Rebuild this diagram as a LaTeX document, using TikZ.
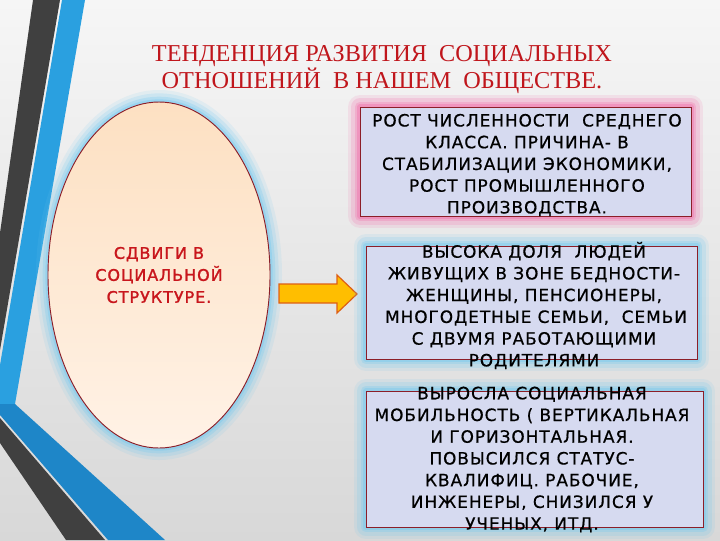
\documentclass[tikz,border=0pt]{standalone}
\usepackage{fontspec}
\setmainfont{Liberation Serif}
\newfontfamily\boxfont[LetterSpace=5.5,FakeBold=0.6]{DejaVu Sans}
\newfontfamily\ellfont[LetterSpace=6,FakeBold=1.4]{DejaVu Sans}
\usetikzlibrary{shapes.geometric}
\definecolor{bgtop}{RGB}{246,246,246}
\definecolor{bgbot}{RGB}{216,216,216}
\definecolor{darkstripe}{RGB}{64,64,64}
\definecolor{bluestripe}{RGB}{42,160,224}
\definecolor{bluestripeb}{RGB}{30,134,200}
\definecolor{titlered}{RGB}{192,22,28}
\definecolor{ellred}{RGB}{200,22,28}
\definecolor{peachtop}{RGB}{253,224,194}
\definecolor{peachbot}{RGB}{255,242,230}
\definecolor{glowblue}{RGB}{110,200,240}
\definecolor{glowpink}{RGB}{240,100,165}
\definecolor{boxfill}{RGB}{214,218,240}
\definecolor{boxline}{RGB}{140,30,40}
\definecolor{arrowfill}{RGB}{255,190,0}
\definecolor{arrowline}{RGB}{222,95,20}
\tikzset{
  glowof/.style={
    preaction={draw=#1, line width=18pt, opacity=0.12, line join=round},
    preaction={draw=#1, line width=13pt, opacity=0.18, line join=round},
    preaction={draw=#1, line width=8pt, opacity=0.25, line join=round},
    preaction={draw=#1, line width=4pt, opacity=0.35, line join=round}},
  infobox/.style={rectangle, draw=boxline, line width=0.7pt, fill=boxfill, inner sep=0pt},
  boxtext/.style={align=center, text=black, inner sep=0pt,
    font={\boxfont\fontsize{12.7pt}{16.3pt}\selectfont}},
}
\begin{document}
\begin{tikzpicture}[x=0.75pt,y=-0.75pt]
\useasboundingbox (0,0) rectangle (720,540);
\shade[top color=bgtop, bottom color=bgbot] (0,0) rectangle (720,540);
% decorative stripes
\fill[darkstripe] (33,0) -- (60,0) -- (0,350) -- (0,233) -- cycle;
\fill[bluestripe] (62,0) -- (85,0) -- (15,404) -- (0,404) -- (0,365) -- cycle;
\fill[bluestripeb] (0,404) -- (15,404) -- (165,540) -- (108,540) -- (0,415) -- cycle;
\fill[darkstripe] (0,418) -- (105,540) -- (66,540) -- (0,443) -- cycle;
% title
\node[font=\fontsize{18.2pt}{18.75pt}\selectfont, text=titlered, align=center, inner sep=0pt]
  (title) at (382,70) {ТЕНДЕНЦИЯ РАЗВИТИЯ~ СОЦИАЛЬНЫХ\\ОТНОШЕНИЙ~ В НАШЕМ~ ОБЩЕСТВЕ.};
% ellipse
\node[ellipse, glowof=glowblue, draw=boxline, line width=0.7pt, top color=peachtop, bottom color=peachbot,
  minimum width=166.5pt, minimum height=259.5pt, inner sep=0pt, align=center, text=ellred,
  font={\ellfont\fontsize{12pt}{16.5pt}\selectfont}]
  (ell) at (159,275) {СДВИГИ В\\СОЦИАЛЬНОЙ\\СТРУКТУРЕ.};
% arrow
\draw[fill=arrowfill, draw=arrowline, line width=0.9pt, line join=miter]
  (279,284) -- (337,284) -- (337,275) -- (357,294) -- (337,313) -- (337,303) -- (279,303) -- cycle;
% boxes
\node[infobox, glowof=glowpink, minimum width=248.25pt, minimum height=81.75pt] (b1) at (525.5,161.5) {};
\node[infobox, glowof=glowblue, minimum width=248.25pt, minimum height=84.75pt] (b2) at (531.5,302.5) {};
\node[infobox, glowof=glowblue, minimum width=252.75pt, minimum height=102pt] (b3) at (534.5,459) {};
\node[boxtext] (t1) at (527,165) {РОСТ ЧИСЛЕННОСТИ~ СРЕДНЕГО\\КЛАССА. ПРИЧИНА- В\\СТАБИЛИЗАЦИИ ЭКОНОМИКИ,\\РОСТ ПРОМЫШЛЕННОГО\\ПРОИЗВОДСТВА.};
\node[boxtext] (t2) at (534,305.5) {ВЫСОКА ДОЛЯ~ ЛЮДЕЙ\\ЖИВУЩИХ В ЗОНЕ БЕДНОСТИ-\\ЖЕНЩИНЫ, ПЕНСИОНЕРЫ,\\\hspace{3pt}МНОГОДЕТНЫЕ СЕМЬИ,~ СЕМЬИ\\С ДВУМЯ РАБОТАЮЩИМИ\\РОДИТЕЛЯМИ};
\node[boxtext] (t3) at (532,459.5) {ВЫРОСЛА СОЦИАЛЬНАЯ\\МОБИЛЬНОСТЬ ( ВЕРТИКАЛЬНАЯ\\И ГОРИЗОНТАЛЬНАЯ.\\ПОВЫСИЛСЯ СТАТУС-\\КВАЛИФИЦ. РАБОЧИЕ,\\ИНЖЕНЕРЫ, СНИЗИЛСЯ У\\УЧЕНЫХ, ИТД.};
\end{tikzpicture}
\end{document}
